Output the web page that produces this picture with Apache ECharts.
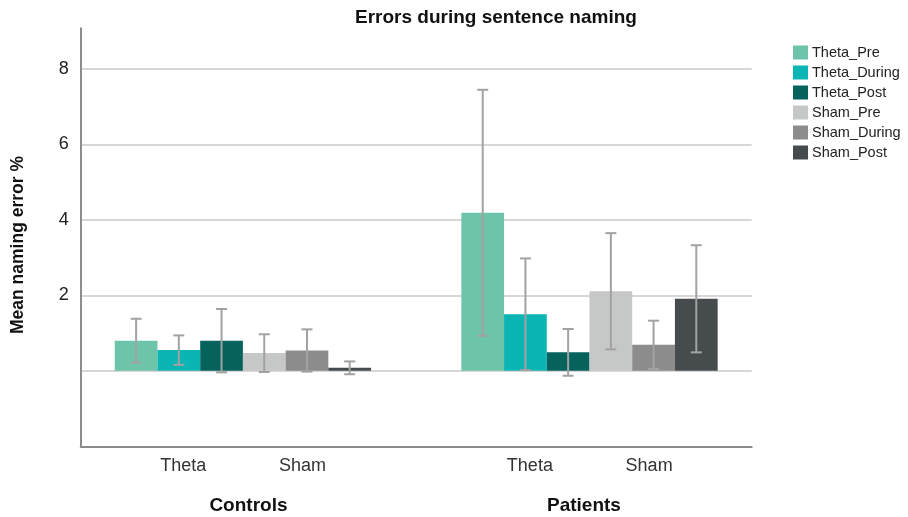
<!DOCTYPE html>
<html>
<head>
<meta charset="utf-8">
<script src="https://cdn.jsdelivr.net/npm/echarts@6/dist/echarts.min.js"></script>
<style>
  html, body { margin: 0; padding: 0; background: #ffffff; }
  #chart { width: 908px; height: 517px; }
</style>
</head>
<body>
<div id="chart"></div>
<script>
// Groups along the x axis and the stimulation conditions inside each group
const groups = ['Controls', 'Patients'];
const conditions = ['Theta', 'Sham'];
const seriesNames = ['Theta_Pre', 'Theta_During', 'Theta_Post', 'Sham_Pre', 'Sham_During', 'Sham_Post'];

// Mean naming error % per group (Controls, Patients)
const thetaPre    = [0.80, 4.19];
const thetaDuring = [0.55, 1.50];
const thetaPost   = [0.80, 0.49];
const shamPre     = [0.47, 2.11];
const shamDuring  = [0.54, 0.69];
const shamPost    = [0.08, 1.91];

// Half-width of the error bars
const thetaPreErr    = [0.58, 3.26];
const thetaDuringErr = [0.39, 1.48];
const thetaPostErr   = [0.84, 0.62];
const shamPreErr     = [0.50, 1.54];
const shamDuringErr  = [0.56, 0.64];
const shamPostErr    = [0.17, 1.42];

// Labelled ticks on the y axis
const yTickLabels = [2, 4, 6, 8];

const means  = [thetaPre, thetaDuring, thetaPost, shamPre, shamDuring, shamPost];
const errors = [thetaPreErr, thetaDuringErr, thetaPostErr, shamPreErr, shamDuringErr, shamPostErr];
const colors = ['#6dc4aa', '#0bb5b4', '#06625d', '#c6c8c7', '#8d8c8d', '#464b4e'];

const FONT = "'Liberation Sans', Arial, sans-serif";
const CLUSTER_GAP = 0.2605;      // empty share of each cluster slot
const SUBLABEL_OFFSET = 0.172;   // Theta / Sham label shift from cluster centre

const chart = echarts.init(document.getElementById('chart'), null, { renderer: 'canvas' });

const barSeries = seriesNames.map((name, i) => ({
  name: name,
  type: 'bar',
  xAxisIndex: 0,
  yAxisIndex: 0,
  barGap: '0%',
  barCategoryGap: (CLUSTER_GAP * 100) + '%',
  itemStyle: { color: colors[i] },
  data: groups.map((g, k) => [k, means[i][k]])
}));

const errorSeries = seriesNames.map((name, i) => ({
  name: name + ' (95% CI)',
  type: 'custom',
  xAxisIndex: 0,
  yAxisIndex: 0,
  z: 5,
  data: groups.map((g, k) => [k, means[i][k] - errors[i][k], means[i][k] + errors[i][k]]),
  renderItem: function (params, api) {
    const band = api.size([1, 0])[0];
    const barW = band * (1 - CLUSTER_GAP) / seriesNames.length;
    const dx = (i - (seriesNames.length - 1) / 2) * barW;
    const lo = api.coord([api.value(0), api.value(1)]);
    const hi = api.coord([api.value(0), api.value(2)]);
    const x = lo[0] + dx;
    const cap = 5.5;
    const style = { stroke: '#a2a2a2', lineWidth: 2 };
    return {
      type: 'group',
      children: [
        { type: 'line', shape: { x1: x, y1: hi[1], x2: x, y2: lo[1] }, style: style },
        { type: 'line', shape: { x1: x - cap, y1: hi[1], x2: x + cap, y2: hi[1] }, style: style },
        { type: 'line', shape: { x1: x - cap, y1: lo[1], x2: x + cap, y2: lo[1] }, style: style }
      ]
    };
  }
}));

chart.setOption({
  animation: false,
  backgroundColor: '#ffffff',
  title: {
    text: 'Errors during sentence naming',
    left: 350,
    top: 3,
    textStyle: { fontFamily: FONT, fontWeight: 'bold', fontSize: 19, color: '#111111' }
  },
  legend: {
    orient: 'vertical',
    left: 788,
    top: 40,
    itemWidth: 15,
    itemHeight: 14,
    itemGap: 5,
    icon: 'rect',
    data: seriesNames,
    textStyle: { fontFamily: FONT, fontSize: 14.5, color: '#222222', padding: [0, 0, 0, -1] }
  },
  grid: { left: 80.7, right: 156.3, top: 28.3, bottom: 70.7 },
  xAxis: [
    {
      type: 'value',
      position: 'bottom',
      min: -0.468,
      max: 1.468,
      axisLine: { show: true, onZero: false, lineStyle: { color: '#8c8c8c', width: 2 } },
      axisTick: { show: false },
      axisLabel: { show: false },
      splitLine: { show: false }
    },
    {
      type: 'category',
      position: 'bottom',
      data: groups,
      axisLine: { show: false, onZero: false },
      axisTick: { show: false },
      splitLine: { show: false },
      axisLabel: {
        margin: 50,
        fontFamily: FONT,
        fontWeight: 'bold',
        fontSize: 19,
        color: '#111111'
      }
    }
  ],
  yAxis: {
    type: 'value',
    min: -2,
    max: 9.08,
    interval: 2,
    axisLine: { show: true, onZero: false, lineStyle: { color: '#8c8c8c', width: 2 } },
    axisTick: { show: false },
    axisLabel: {
      margin: 12,
      fontFamily: FONT,
      fontSize: 18,
      color: '#222222',
      formatter: v => (yTickLabels.indexOf(v) >= 0 ? String(v) : '')
    },
    splitLine: {
      show: true,
      showMinLine: false,
      showMaxLine: false,
      lineStyle: { color: '#cacaca', width: 1.5 }
    }
  },
  series: barSeries.concat(errorSeries)
});

// Axis title and the Theta / Sham labels under each cluster
const graphics = [{
  type: 'text',
  x: 18,
  y: 245,
  rotation: Math.PI / 2,
  style: {
    text: 'Mean naming error %',
    fontFamily: FONT,
    fontWeight: 'bold',
    fontSize: 17.5,
    fill: '#111111',
    textAlign: 'center',
    textVerticalAlign: 'middle'
  }
}];
groups.forEach((g, k) => {
  conditions.forEach((c, j) => {
    const pos = k + (j === 0 ? -SUBLABEL_OFFSET : SUBLABEL_OFFSET);
    const px = chart.convertToPixel({ xAxisIndex: 0 }, pos);
    graphics.push({
      type: 'text',
      x: px,
      y: 466,
      style: {
        text: c,
        fontFamily: FONT,
        fontSize: 18,
        fill: '#333333',
        textAlign: 'center',
        textVerticalAlign: 'middle'
      }
    });
  });
});
chart.setOption({ graphic: graphics });
</script>
</body>
</html>
